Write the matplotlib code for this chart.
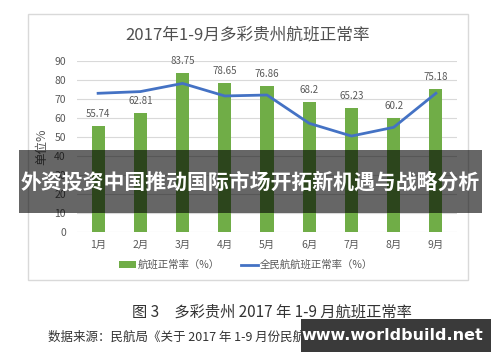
import matplotlib
matplotlib.use("Agg")
import matplotlib.pyplot as plt
from matplotlib.patches import Rectangle
from matplotlib.lines import Line2D
from matplotlib.patches import Patch

plt.rcParams['font.family'] = ['Noto Sans CJK SC', 'DejaVu Sans']

months = ['1月', '2月', '3月', '4月', '5月', '6月', '7月', '8月', '9月']
duocai_rate = [55.74, 62.81, 83.75, 78.65, 76.86, 68.2, 65.23, 60.2, 75.18]
national_rate = [73.0, 73.9, 78.2, 71.6, 72.1, 57.2, 50.5, 55.1, 73.0]
yticks = [0, 10, 20, 30, 40, 50, 60, 70, 80, 90]

W, H = 500, 362
fig = plt.figure(figsize=(W / 100, H / 100), dpi=100)
fig.patch.set_facecolor('white')

def fx(px):
    return px / W

def fy(py):
    return 1 - py / H

# chart frame
fig.add_artist(Rectangle((fx(28), fy(280)), fx(468) - fx(28), fy(14) - fy(280),
                         transform=fig.transFigure, facecolor='white',
                         edgecolor='#d9d9d9', linewidth=1.0, zorder=0))

ax = fig.add_axes([fx(77), fy(232), fx(457) - fx(77), fy(61) - fy(232)])
ax.set_facecolor('none')
x = list(range(len(months)))
ax.bar(x, duocai_rate, width=0.31, color='#70AD47', zorder=3)
ax.plot(x, national_rate, color='#4472C4', linewidth=2, zorder=4)
for xi, v in zip(x, duocai_rate):
    ax.annotate(f'{v:g}', (xi, v), xytext=(0, 5), textcoords='offset points',
                ha='center', va='bottom', fontsize=7, color='#595959')
ax.set_xlim(-0.5, len(months) - 0.5)
ax.set_ylim(0, 90)
ax.set_yticks(yticks)
ax.set_xticks(x)
ax.set_xticklabels(months)
ax.tick_params(axis='both', length=0, labelsize=7.5, colors='#595959')
ax.tick_params(axis='y', pad=8)
ax.tick_params(axis='x', pad=6)
ax.grid(axis='y', color='#d9d9d9', linewidth=0.8, zorder=0)
for s in ax.spines.values():
    s.set_visible(False)
ax.set_ylabel('单位%', fontsize=9, color='#595959', labelpad=4)

handles = [Patch(facecolor='#70AD47', edgecolor='none'),
           Line2D([0], [0], color='#4472C4', linewidth=2)]
fig.legend(handles, ['航班正常率（%）', '全民航航班正常率（%）'],
           loc='center', bbox_to_anchor=(fx(246), fy(265)), ncol=2,
           frameon=False, fontsize=7.5, labelcolor='#595959',
           handlelength=1.6, handletextpad=0.2, columnspacing=2.0,
           handleheight=0.6)

fig.text(fx(248), fy(35), '2017年1-9月多彩贵州航班正常率', ha='center', va='center',
         fontsize=12, color='#505050')

# caption
fig.text(fx(272), fy(312), '图 3　多彩贵州 2017 年 1-9 月航班正常率', ha='center', va='center',
         fontsize=11, color='#333333')
fig.text(fx(48), fy(337), '数据来源：民航局《关于 2017 年 1-9 月份民航航班正常统计情况的通报》',
         ha='left', va='center', fontsize=9, color='#333333')

# banner overlay
fig.add_artist(Rectangle((fx(19), fy(213)), fx(482) - fx(19), fy(150) - fy(213),
                         transform=fig.transFigure, facecolor='black', alpha=0.6,
                         edgecolor='none', zorder=10))
fig.text(fx(250), fy(182), '外资投资中国推动国际市场开拓新机遇与战略分析', ha='center', va='center',
         fontsize=15, color='white', fontweight='bold', zorder=11)

# watermark
fig.add_artist(Rectangle((fx(301), fy(352)), fx(491) - fx(301), fy(319) - fy(352),
                         transform=fig.transFigure, facecolor='#3a3a3a',
                         edgecolor='none', zorder=10))
fig.text(fx(392), fy(335), 'www.worldbuild.net', ha='center', va='center',
         fontsize=11.5, color='white', fontweight='bold', zorder=11,
         family=['DejaVu Sans'])

fig.savefig('out.png', dpi=100)
